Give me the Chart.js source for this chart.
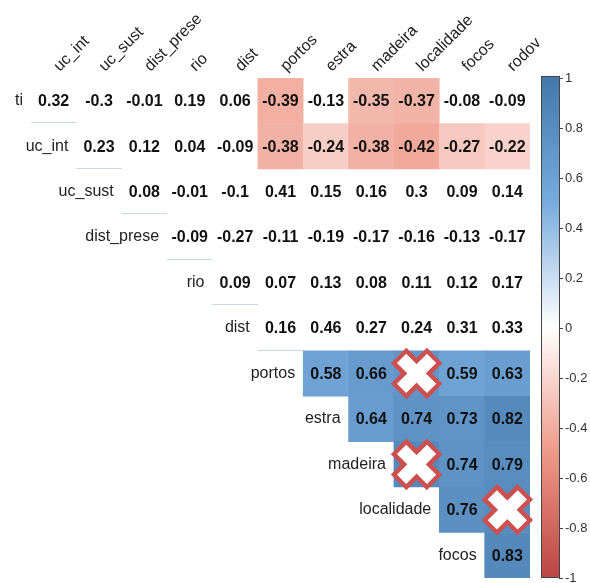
<!DOCTYPE html>
<html><head><meta charset="utf-8">
<script src="https://cdn.jsdelivr.net/npm/chart.js@4.4.0/dist/chart.umd.min.js"></script>
<style>html,body{margin:0;padding:0;background:#fff;} canvas{display:block;}</style>
</head><body>
<canvas id="c" width="590" height="583"></canvas>
<script>
// ---- data ----
const rowLabels = ['ti','uc_int','uc_sust','dist_prese','rio','dist','portos','estra','madeira','localidade','focos'];
const colLabels = ['uc_int','uc_sust','dist_prese','rio','dist','portos','estra','madeira','localidade','focos','rodov'];
// upper-triangle values: row r starts at column r
const rowValues = [
  [0.32,-0.3,-0.01,0.19,0.06,-0.39,-0.13,-0.35,-0.37,-0.08,-0.09],
  [0.23,0.12,0.04,-0.09,-0.38,-0.24,-0.38,-0.42,-0.27,-0.22],
  [0.08,-0.01,-0.1,0.41,0.15,0.16,0.3,0.09,0.14],
  [-0.09,-0.27,-0.11,-0.19,-0.17,-0.16,-0.13,-0.17],
  [0.09,0.07,0.13,0.08,0.11,0.12,0.17],
  [0.16,0.46,0.27,0.24,0.31,0.33],
  [0.58,0.66,0.71,0.59,0.63],
  [0.64,0.74,0.73,0.82],
  [0.83,0.74,0.79],
  [0.76,0.8],
  [0.83]
];
// 1 = cell is coloured, 0 = blank
const colouredFlags = [
  [0,0,0,0,0,1,0,1,1,0,0],
  [0,0,0,0,1,1,1,1,1,1],
  [0,0,0,0,0,0,0,0,0],
  [0,0,0,0,0,0,0,0],
  [0,0,0,0,0,0,0],
  [0,0,0,0,0,0],
  [1,1,1,1,1],
  [1,1,1,1],
  [1,1,1],
  [1,1],
  [1]
];
const crossedRows = [6,8,9];
const crossedCols = [8,8,10];
const paletteStops = [-1,-0.5,0,0.5,1];
const paletteColors = ['#BB4444','#EE9988','#FFFFFF','#77AADD','#4477AA'];
const colourbarTicks = [1,0.8,0.6,0.4,0.2,0,-0.2,-0.4,-0.6,-0.8,-1];

// ---- helpers ----
function hexRgb(h){return [parseInt(h.substr(1,2),16),parseInt(h.substr(3,2),16),parseInt(h.substr(5,2),16)];}
function colourFor(v){
  for(let i=0;i<paletteStops.length-1;i++){
    if(v>=paletteStops[i] && v<=paletteStops[i+1]){
      const t=(v-paletteStops[i])/(paletteStops[i+1]-paletteStops[i]);
      const a=hexRgb(paletteColors[i]), b=hexRgb(paletteColors[i+1]);
      return 'rgb('+a.map((c,k)=>Math.round(c+(b[k]-c)*t)).join(',')+')';
    }
  }
  return '#fff';
}
const points=[];
rowValues.forEach((vals,r)=>vals.forEach((v,k)=>{
  points.push({x:r+k,y:r,v:v,col:colouredFlags[r][k]===1});
}));

const FONT = '"Liberation Sans", Arial, sans-serif';

const annotate = {
  id:'annotate',
  beforeDatasetsDraw(chart){
    const ctx=chart.ctx, xs=chart.scales.x, ys=chart.scales.y;
    ctx.save();
    ctx.strokeStyle='#c9d6e3'; ctx.lineWidth=1;
    for(let r=0;r<=5;r++){
      const y=Math.round(ys.getPixelForValue(r+0.5))-0.5;
      ctx.beginPath();
      ctx.moveTo(xs.getPixelForValue(r-0.5),y);
      ctx.lineTo(xs.getPixelForValue(r+0.5),y);
      ctx.stroke();
    }
    ctx.restore();
  },
  afterDatasetsDraw(chart){
    const ctx=chart.ctx, xs=chart.scales.x, ys=chart.scales.y;
    ctx.save();
    // values
    ctx.font='bold 16px '+FONT; ctx.fillStyle='#111';
    ctx.textAlign='center'; ctx.textBaseline='middle';
    points.forEach(p=>{
      ctx.fillText(String(p.v), xs.getPixelForValue(p.x), ys.getPixelForValue(p.y)+1);
    });
    // row labels
    ctx.font='16px '+FONT; ctx.fillStyle='#222'; ctx.textAlign='right';
    rowLabels.forEach((lab,r)=>{
      ctx.fillText(lab, xs.getPixelForValue(r-0.5)-8, ys.getPixelForValue(r));
    });
    // column labels (rotated)
    ctx.textAlign='left'; ctx.textBaseline='alphabetic';
    colLabels.forEach((lab,c)=>{
      ctx.save();
      ctx.translate(xs.getPixelForValue(c)+6, ys.top-6);
      ctx.rotate(-Math.PI/4);
      ctx.fillText(lab,0,0);
      ctx.restore();
    });
    // crosses
    crossedRows.forEach((r,i)=>{
      const cx=xs.getPixelForValue(crossedCols[i]), cy=ys.getPixelForValue(r);
      ctx.lineCap='butt';
      ctx.strokeStyle='#cc5050'; ctx.lineWidth=22;
      let L=18;
      ctx.beginPath(); ctx.moveTo(cx-L,cy-L); ctx.lineTo(cx+L,cy+L);
      ctx.moveTo(cx+L,cy-L); ctx.lineTo(cx-L,cy+L); ctx.stroke();
      ctx.strokeStyle='#ffffff'; ctx.lineWidth=13; L=15;
      ctx.beginPath(); ctx.moveTo(cx-L,cy-L); ctx.lineTo(cx+L,cy+L);
      ctx.moveTo(cx+L,cy-L); ctx.lineTo(cx-L,cy+L); ctx.stroke();
    });
    // colour bar
    const cb=chart.scales.cb;
    const x0=cb.left+11, w=19;
    const yt=cb.getPixelForValue(1)-2, yb=cb.getPixelForValue(-1);
    const g=ctx.createLinearGradient(0,yb,0,yt);
    paletteStops.forEach((s,i)=>g.addColorStop((s+1)/2,paletteColors[i]));
    ctx.fillStyle=g; ctx.fillRect(x0,yt,w,yb-yt);
    ctx.strokeStyle='#444'; ctx.lineWidth=1;
    ctx.strokeRect(x0+0.5,yt+0.5,w-1,yb-yt-1);
    colourbarTicks.forEach(v=>{
      const y=Math.round(cb.getPixelForValue(v))+0.5;
      ctx.beginPath(); ctx.moveTo(x0+w-1,y); ctx.lineTo(x0+w+3,y); ctx.stroke();
    });
    ctx.restore();
  }
};

new Chart(document.getElementById('c'),{
  type:'scatter',
  data:{datasets:[{
    data:points,
    pointStyle:'rect',
    pointRadius:(ctx)=>{
      const ca=ctx.chart.chartArea; if(!ca) return 30;
      return ((ca.right-ca.left)/11+0.6)/Math.SQRT2;
    },
    pointHoverRadius:(ctx)=>{
      const ca=ctx.chart.chartArea; if(!ca) return 30;
      return ((ca.right-ca.left)/11+0.6)/Math.SQRT2;
    },
    backgroundColor:(ctx)=>{const p=ctx.raw; return (p&&p.col)?colourFor(p.v):'rgba(255,255,255,0)';},
    hoverBackgroundColor:(ctx)=>{const p=ctx.raw; return (p&&p.col)?colourFor(p.v):'rgba(255,255,255,0)';},
    borderWidth:0, hoverBorderWidth:0
  }]},
  options:{
    responsive:false, animation:false, events:[],
    layout:{autoPadding:false,padding:{left:31,top:78,bottom:5,right:0}},
    plugins:{legend:{display:false},tooltip:{enabled:false}},
    scales:{
      x:{type:'linear',min:-0.5,max:10.5,display:false},
      y:{type:'linear',min:-0.5,max:10.5,reverse:true,display:false},
      cb:{type:'linear',position:'right',min:-1,max:1,
        grid:{display:false,drawTicks:false},border:{display:false},
        afterBuildTicks:(s)=>{s.ticks=colourbarTicks.map(v=>({value:v}));},
        afterFit:(s)=>{s.width=60;s.paddingTop=0;s.paddingBottom=0;},
        ticks:{padding:35,color:'#333',font:{size:13,family:FONT},
          callback:(v)=>String(+Number(v).toFixed(2))}
      }
    }
  },
  plugins:[annotate]
});
</script>
</body></html>
